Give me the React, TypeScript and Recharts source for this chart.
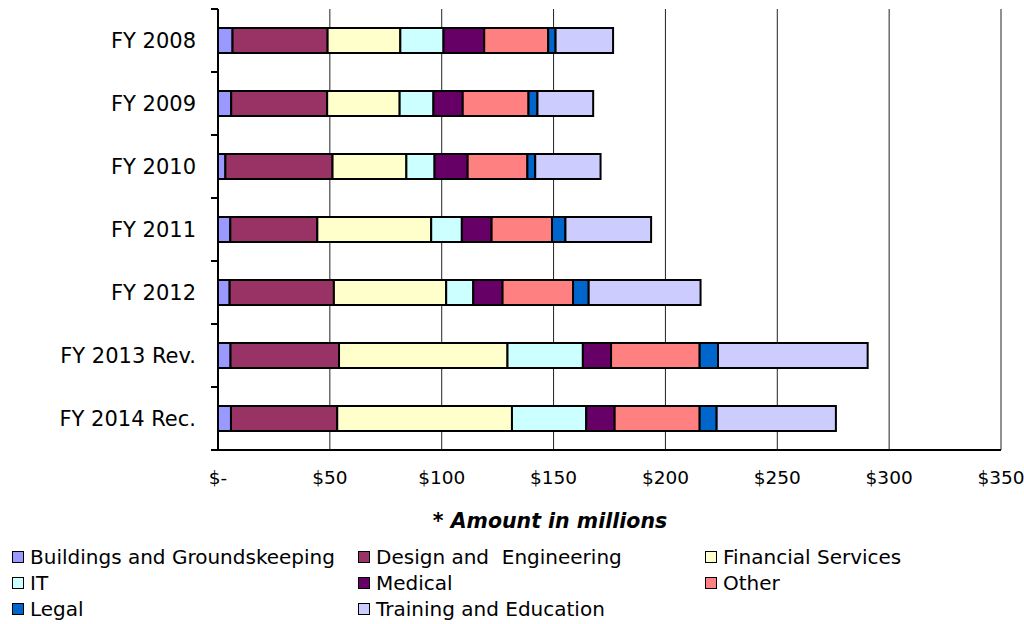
import { BarChart, Bar, XAxis, YAxis, CartesianGrid } from 'recharts';

const categories = ['FY 2008', 'FY 2009', 'FY 2010', 'FY 2011', 'FY 2012', 'FY 2013 Rev.', 'FY 2014 Rec.'];

// amounts in $ millions
const buildings = [6.5, 5.9, 3.3, 5.5, 5.2, 5.6, 5.8];
const design = [42.5, 42.9, 47.9, 38.9, 46.6, 48.5, 47.5];
const financial = [32.5, 32.4, 33.0, 50.9, 50.2, 75.3, 78.1];
const it = [19.3, 15.1, 12.6, 13.7, 12.1, 33.7, 33.2];
const medical = [18.2, 13.1, 14.8, 13.3, 13.1, 12.6, 12.7];
const other = [28.6, 29.4, 26.7, 27.0, 31.5, 39.6, 38.0];
const legal = [3.3, 4.0, 3.5, 6.0, 7.0, 8.2, 7.6];
const training = [25.7, 24.9, 29.2, 38.3, 50.0, 66.9, 53.3];

const xTicks = [0, 50, 100, 150, 200, 250, 300, 350];

const series = [
  { key: 'buildings', name: 'Buildings and Groundskeeping', color: '#9999FF', values: buildings },
  { key: 'design', name: 'Design and  Engineering', color: '#993366', values: design },
  { key: 'financial', name: 'Financial Services', color: '#FFFFCC', values: financial },
  { key: 'it', name: 'IT', color: '#CCFFFF', values: it },
  { key: 'medical', name: 'Medical', color: '#660066', values: medical },
  { key: 'other', name: 'Other', color: '#FF8080', values: other },
  { key: 'legal', name: 'Legal', color: '#0066CC', values: legal },
  { key: 'training', name: 'Training and Education', color: '#CCCCFF', values: training },
];

const data = categories.map((name, i) => {
  const row: Record<string, any> = { name };
  series.forEach((s) => (row[s.key] = s.values[i]));
  return row;
});

const FONT = '"DejaVu Sans", Verdana, sans-serif';
const Y_MARGIN = 22;

function YTick(props: any) {
  const { x, y, payload, index, visibleTicksCount } = props;
  const half = payload?.offset ?? 31.5;
  const axisX = x + Y_MARGIN;
  const last = index === visibleTicksCount - 1;
  return (
    <g>
      <line x1={axisX - 7} x2={axisX} y1={y - half} y2={y - half} stroke="#000" strokeWidth={2} />
      {last && <line x1={axisX - 7} x2={axisX} y1={y + half} y2={y + half} stroke="#000" strokeWidth={2} />}
      <text x={x} y={y} dy="0.36em" textAnchor="end" fill="#000" fontSize={21} fontFamily={FONT}>
        {payload.value}
      </text>
    </g>
  );
}

export default function App() {
  return (
    <div style={{ position: 'absolute', left: 0, top: 0, width: 1024, height: 624, background: '#fff' }}>
      <BarChart
        width={1024}
        height={624}
        data={data}
        layout="vertical"
        margin={{ top: 9, right: 23, bottom: 134, left: 0 }}
        barSize={25}
      >
        <CartesianGrid horizontal={false} stroke="#222" strokeWidth={1} />
        <XAxis
          type="number"
          domain={[0, 350]}
          ticks={xTicks}
          height={40}
          tickLine={false}
          tickSize={0}
          tickMargin={21}
          axisLine={{ stroke: '#000', strokeWidth: 2 }}
          tick={{ fill: '#000', fontSize: 18.5, fontFamily: FONT }}
          tickFormatter={(v: number) => (v === 0 ? '$-' : `$${v}`)}
        />
        <YAxis
          type="category"
          dataKey="name"
          width={218}
          tickLine={false}
          tickSize={0}
          tickMargin={Y_MARGIN}
          axisLine={{ stroke: '#000', strokeWidth: 2 }}
          tick={<YTick />}
          interval={0}
        />
        {series.map((s) => (
          <Bar
            key={s.key}
            dataKey={s.key}
            name={s.name}
            stackId="a"
            fill={s.color}
            stroke="#000"
            strokeWidth={2}
            isAnimationActive={false}
          />
        ))}
      </BarChart>
      <div
        style={{
          position: 'absolute',
          left: 350,
          top: 509,
          width: 400,
          textAlign: 'center',
          fontFamily: FONT,
          fontSize: 20.5,
          fontWeight: 'bold',
          fontStyle: 'italic',
          lineHeight: '24px',
          color: '#000',
        }}
      >
        * Amount in millions
      </div>
      <div
        style={{
          position: 'absolute',
          left: 12,
          top: 544,
          display: 'grid',
          gridTemplateColumns: '346px 347px 300px',
          gridAutoRows: '26px',
          fontFamily: FONT,
          fontSize: 20,
          color: '#000',
        }}
      >
        {series.map((s) => (
          <div key={s.key} style={{ display: 'flex', alignItems: 'center', whiteSpace: 'pre' }}>
            <span
              style={{
                display: 'inline-block',
                boxSizing: 'border-box',
                width: 12,
                height: 12,
                background: s.color,
                border: '1.5px solid #000',
                marginRight: 6,
              }}
            />
            {s.name}
          </div>
        ))}
      </div>
    </div>
  );
}
